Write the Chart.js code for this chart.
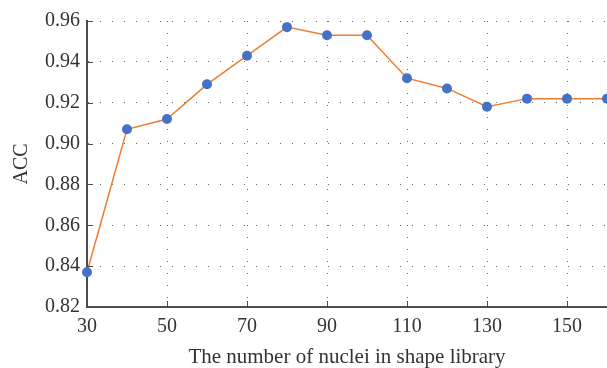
<!DOCTYPE html>
<html>
<head>
<meta charset="utf-8">
<script src="https://cdn.jsdelivr.net/npm/chart.js@4/dist/chart.umd.min.js"></script>
<style>
  html, body { margin: 0; padding: 0; background: #fff; }
  #wrap { width: 607px; height: 368px; }
</style>
</head>
<body>
<div id="wrap"><canvas id="canvas" width="607" height="368"></canvas></div>
<script>
var nuclei = [30, 40, 50, 60, 70, 80, 90, 100, 110, 120, 130, 140, 150, 160];
var acc = [0.837, 0.907, 0.912, 0.929, 0.943, 0.957, 0.953, 0.953, 0.932, 0.927, 0.918, 0.922, 0.922, 0.922];
var xTicks = [30, 50, 70, 90, 110, 130, 150];
var yTicks = [0.82, 0.84, 0.86, 0.88, 0.90, 0.92, 0.94, 0.96];

var axisColor = '#4d4d4d';
var serif = "'Liberation Serif', 'Times New Roman', serif";

// short solid ticks pointing into the plot
var innerTicks = {
    id: 'innerTicks',
    afterDatasetsDraw: function (chart) {
        var c = chart.ctx, a = chart.chartArea;
        var xs = chart.scales.x, ys = chart.scales.y;
        c.save();
        c.strokeStyle = axisColor;
        c.lineWidth = 1;
        xTicks.forEach(function (v) {
            var px = Math.round(xs.getPixelForValue(v)) + 0.5;
            c.beginPath(); c.moveTo(px, a.bottom); c.lineTo(px, a.bottom - 6); c.stroke();
        });
        yTicks.forEach(function (v) {
            var py = Math.round(ys.getPixelForValue(v)) + 0.5;
            c.beginPath(); c.moveTo(a.left, py); c.lineTo(a.left + 6, py); c.stroke();
        });
        c.restore();
    }
};

var ctx = document.getElementById('canvas').getContext('2d');
var myChart = new Chart(ctx, {
    type: 'line',
    data: {
        datasets: [{
            data: nuclei.map(function (n, i) { return { x: n, y: acc[i] }; }),
            borderColor: '#ED7D31',
            borderWidth: 1.5,
            backgroundColor: '#4472C4',
            pointBackgroundColor: '#4472C4',
            pointBorderColor: '#4472C4',
            pointRadius: 5,
            pointBorderWidth: 0,
            tension: 0,
            clip: false
        }]
    },
    options: {
        responsive: false,
        animation: false,
        devicePixelRatio: 1,
        layout: { autoPadding: false, padding: { top: 21, right: 0, left: 0, bottom: 0 } },
        plugins: {
            legend: { display: false },
            tooltip: { enabled: false }
        },
        scales: {
            x: {
                type: 'linear',
                min: 30,
                max: 160,
                afterBuildTicks: function (scale) {
                    scale.ticks = xTicks.map(function (v) { return { value: v }; });
                },
                afterFit: function (scale) { scale.height = 61; },
                grid: { color: '#666', lineWidth: 1, drawTicks: false },
                border: { color: axisColor, width: 2, dash: [1, 11] },
                ticks: {
                    color: '#333',
                    padding: 8,
                    maxRotation: 0,
                    font: { family: serif, size: 20 }
                },
                title: {
                    display: true,
                    text: 'The number of nuclei in shape library',
                    color: '#333',
                    padding: { top: 0, bottom: 0 },
                    font: { family: serif, size: 21, lineHeight: 1.0 }
                }
            },
            y: {
                min: 0.82,
                max: 0.96,
                afterBuildTicks: function (scale) {
                    scale.ticks = yTicks.map(function (v) { return { value: v }; });
                },
                afterFit: function (scale) { scale.width = 87; },
                grid: { color: '#666', lineWidth: 1, drawTicks: false },
                border: { color: axisColor, width: 2, dash: [1, 11] },
                ticks: {
                    color: '#333',
                    padding: 7,
                    font: { family: serif, size: 20 },
                    callback: function (v) { return v.toFixed(2); }
                },
                title: {
                    display: true,
                    text: 'ACC',
                    color: '#333',
                    padding: { top: 10, bottom: 0 },
                    font: { family: serif, size: 20 }
                }
            }
        }
    },
    plugins: [innerTicks]
});
</script>
</body>
</html>
